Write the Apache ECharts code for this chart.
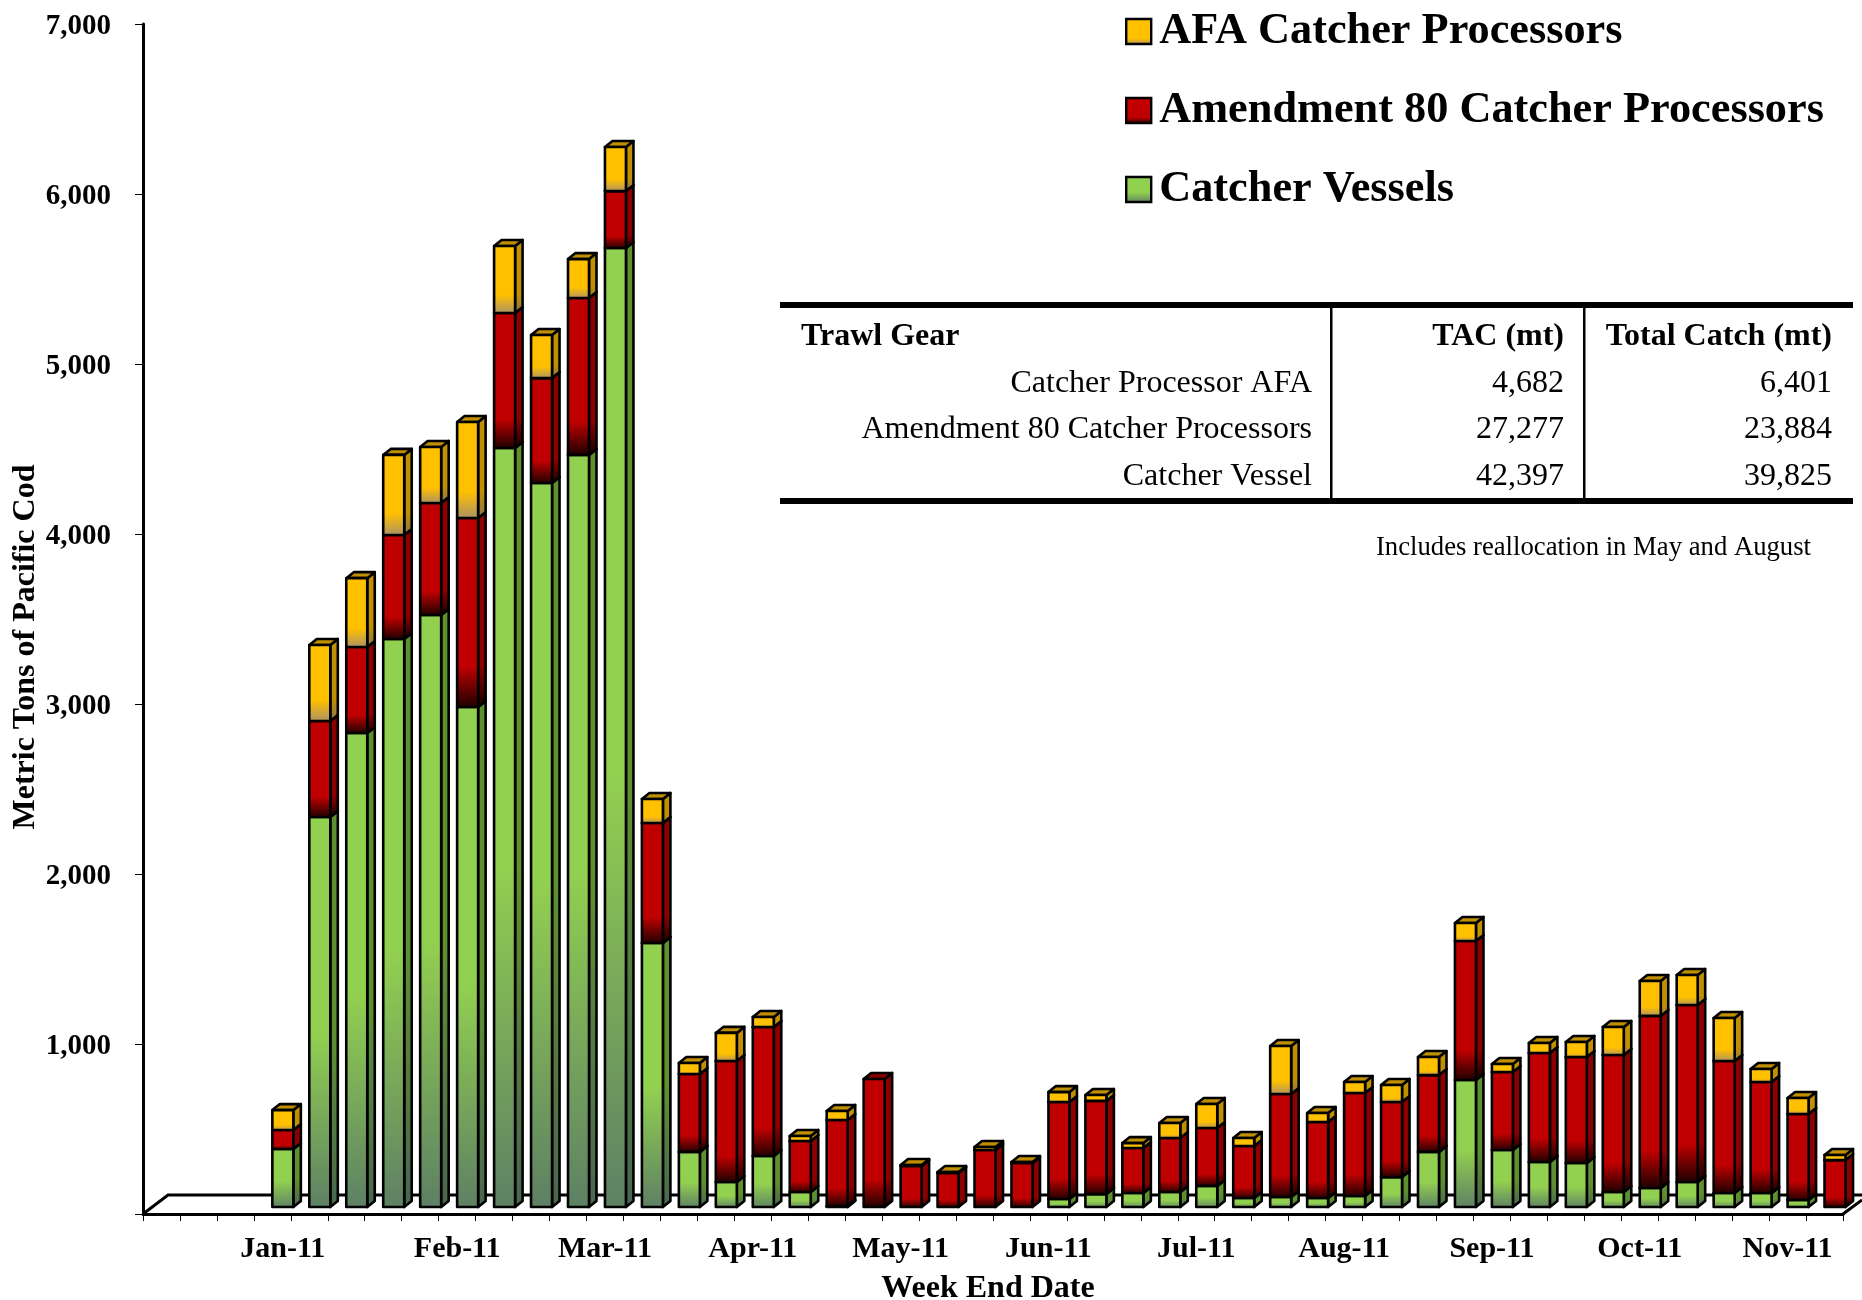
<!DOCTYPE html>
<html>
<head>
<meta charset="utf-8">
<style>html,body{margin:0;padding:0;background:#fff}#c{width:1862px;height:1300px}</style>
<script src="https://cdn.jsdelivr.net/npm/echarts@6/dist/echarts.min.js"></script>
</head>
<body>
<div id="c"></div>
<script>
const monthLabels = ['', '', '', 'Jan-11', '', '', '', '', 'Feb-11', '', '', '', 'Mar-11', '', '', '', 'Apr-11', '', '', '', 'May-11', '', '', '', 'Jun-11', '', '', '', 'Jul-11', '', '', '', 'Aug-11', '', '', '', 'Sep-11', '', '', '', 'Oct-11', '', '', '', 'Nov-11', ''];
const firstBarSlot = 3;
const catcherVessels = [341,2294,2788,3341,3482,2941,4465,4259,4424,5641,1553,324,147,300,88,5,0,0,0,0,0,47,76,82,88,124,53,59,53,65,176,324,747,335,265,259,88,112,147,82,82,41,0];
const amendment80 = [112,565,506,612,659,1112,794,617,923,335,706,458,712,759,300,507,753,241,200,335,259,571,548,265,318,341,306,606,447,606,442,452,818,459,641,623,806,1012,1041,777,653,506,276];
const afaProcessors = [117,447,405,471,330,565,394,253,229,259,141,65,165,59,30,53,0,6,6,18,6,58,35,29,88,141,47,282,53,64,100,106,106,47,59,89,165,205,177,253,77,94,30];
const seriesNames = ['AFA Catcher Processors', 'Amendment 80 Catcher Processors', 'Catcher Vessels'];
const tableHeader = ['Trawl Gear', 'TAC (mt)', 'Total Catch (mt)'];
const tableGear = ['Catcher Processor AFA', 'Amendment 80 Catcher Processors', 'Catcher Vessel'];
const tableTac = ['4,682', '27,277', '42,397'];
const tableCatch = ['6,401', '23,884', '39,825'];
const tableNote = 'Includes reallocation in May and August';

const FONT = '"Liberation Serif","Times New Roman",serif';
const FACE_W = 21, DEPTH_X = 7.5, DEPTH_Y = 6, LIFT = 7, STROKE = 2.6;

function grad(stops) {
  return new echarts.graphic.LinearGradient(0, 0, 0, 1, stops.map(s => ({offset: s[0], color: s[1]})));
}
const palette = {
  afa: {front: ['#FFC000', '#FFC000', '#A89068'], side: ['#C09000', '#C09000', '#8A7450'], top: '#C09000', from: 0.72},
  a80: {front: ['#C00000', '#C00000', '#1A0000'], side: ['#8E0000', '#8E0000', '#140000'], top: '#900000', from: 0.78},
  cv:  {front: ['#92D050', '#92D050', '#5E8064'], side: ['#5F9030', '#5F9030', '#4A6650'], top: '#6E9C3C', from: 0.55}
};

function barRenderer(p) {
  return function (params, api) {
    const base = api.value(1), top = api.value(2);
    if (top - base <= 0) return null;
    const x = api.coord([api.value(0), 0])[0];
    const y0 = api.coord([0, base])[1] - LIFT;
    const y1 = api.coord([0, top])[1] - LIFT;
    const line = {stroke: '#000', lineWidth: STROKE, lineJoin: 'round'};
    const stops = c => [[0, c[0]], [p.from, c[1]], [1, c[2]]];
    return {
      type: 'group',
      children: [
        {type: 'polygon', shape: {points: [[x + FACE_W, y1], [x + FACE_W + DEPTH_X, y1 - DEPTH_Y], [x + FACE_W + DEPTH_X, y0 - DEPTH_Y], [x + FACE_W, y0]]},
          style: Object.assign({fill: grad(stops(p.side))}, line)},
        {type: 'polygon', shape: {points: [[x, y1], [x + DEPTH_X, y1 - DEPTH_Y], [x + FACE_W + DEPTH_X, y1 - DEPTH_Y], [x + FACE_W, y1]]},
          style: Object.assign({fill: p.top}, line)},
        {type: 'rect', shape: {x: x, y: y1, width: FACE_W, height: y0 - y1},
          style: Object.assign({fill: grad(stops(p.front))}, line)}
      ]
    };
  };
}

function stackData(values, below) {
  return values.map((v, i) => {
    const b = below.reduce((s, arr) => s + arr[i], 0);
    return [i + firstBarSlot, b, b + v];
  });
}

function floorRenderer(params) {
  const c = params.coordSys;
  const bottom = c.y + c.height, left = c.x, right = c.x + c.width;
  const st = {stroke: '#000', lineWidth: 3, fill: null};
  return {type: 'group', children: [
    {type: 'polyline', shape: {points: [[left, bottom], [left + 25, bottom - 19], [1862, bottom - 19]]}, style: st},
    {type: 'line', shape: {x1: right, y1: bottom, x2: right + 19, y2: bottom - 14}, style: st}
  ]};
}

const textCommon = {fontFamily: FONT, fill: '#000', fontSize: 32};
const rowY = [337, 384, 430, 476.5];
const colRight = [1312, 1564, 1832];
const tableEls = [
  {type: 'rect', shape: {x: 780, y: 302, width: 1073, height: 6}, style: {fill: '#000'}},
  {type: 'rect', shape: {x: 780, y: 498, width: 1073, height: 6}, style: {fill: '#000'}},
  {type: 'rect', shape: {x: 1330, y: 305, width: 2.5, height: 196}, style: {fill: '#000'}},
  {type: 'rect', shape: {x: 1583, y: 305, width: 2.5, height: 196}, style: {fill: '#000'}},
  {type: 'text', x: 801, y: rowY[0], style: Object.assign({}, textCommon, {text: tableHeader[0], fontWeight: 'bold', textAlign: 'left', textVerticalAlign: 'middle'})},
  {type: 'text', x: colRight[1], y: rowY[0], style: Object.assign({}, textCommon, {text: tableHeader[1], fontWeight: 'bold', textAlign: 'right', textVerticalAlign: 'middle'})},
  {type: 'text', x: colRight[2], y: rowY[0], style: Object.assign({}, textCommon, {text: tableHeader[2], fontWeight: 'bold', textAlign: 'right', textVerticalAlign: 'middle'})},
  {type: 'text', x: 1811, y: 548, style: Object.assign({}, textCommon, {text: tableNote, fontSize: 26.7, textAlign: 'right', textVerticalAlign: 'middle'})}
];
[tableGear, tableTac, tableCatch].forEach((col, ci) => col.forEach((t, ri) => {
  tableEls.push({type: 'text', x: colRight[ci], y: rowY[ri + 1], style: Object.assign({}, textCommon, {text: t, textAlign: 'right', textVerticalAlign: 'middle'})});
}));

const chart = echarts.init(document.getElementById('c'), null, {renderer: 'canvas', width: 1862, height: 1300});
const legendEntry = (name, color) => ({name: name, itemStyle: {color: color, borderColor: '#000', borderWidth: 2.4}});

chart.setOption({
  animation: false,
  backgroundColor: '#fff',
  grid: {left: 143, top: 24, width: 1700, height: 1190, containLabel: false, outerBoundsMode: 'none'},
  xAxis: {
    type: 'category',
    data: monthLabels,
    boundaryGap: true,
    name: 'Week End Date',
    nameLocation: 'middle',
    nameGap: 59,
    nameMoveOverlap: false,
    nameTextStyle: {fontFamily: FONT, fontWeight: 'bold', fontSize: 32, color: '#000', padding: [0, 10, 0, 0]},
    axisLine: {lineStyle: {color: '#000', width: 3}},
    axisTick: {show: true, length: 7, interval: 0, alignWithLabel: false, lineStyle: {color: '#000', width: 1}},
    axisLabel: {
      interval: 0, margin: 20, hideOverlap: false, color: '#000',
      fontFamily: FONT, fontWeight: 'bold', fontSize: 30,
      formatter: v => v === 'Jan-11' ? '{j|' + v + '}' : v,
      rich: {j: {fontFamily: FONT, fontWeight: 'bold', fontSize: 30, color: '#000', padding: [0, 0, 0, 21]}}
    }
  },
  yAxis: {
    type: 'value', min: 0, max: 7000, interval: 1000,
    name: 'Metric Tons of Pacific Cod',
    nameLocation: 'middle',
    nameRotate: 90,
    nameGap: 101,
    nameMoveOverlap: false,
    nameTextStyle: {fontFamily: FONT, fontWeight: 'bold', fontSize: 32, color: '#000', padding: [0, 56, 0, 0]},
    splitLine: {show: false},
    axisLine: {show: true, lineStyle: {color: '#000', width: 3}},
    axisTick: {show: true, length: 8, lineStyle: {color: '#000', width: 1}},
    axisLabel: {
      margin: 32, color: '#000', fontFamily: FONT, fontWeight: 'bold', fontSize: 29,
      formatter: v => v === 0 ? '' : '{n|' + v.toLocaleString('en-US') + '}',
      rich: {n: {fontFamily: FONT, fontWeight: 'bold', fontSize: 29, color: '#000', padding: [5, 0, 0, 0]}}
    }
  },
  legend: {
    orient: 'vertical', left: 1120, top: 4.5,
    itemWidth: 25, itemHeight: 25, itemGap: 35, selectedMode: false,
    icon: 'rect',
    textStyle: {fontFamily: FONT, fontWeight: 'bold', fontSize: 44.3, color: '#000', lineHeight: 25, padding: [0, 0, 0, 3]},
    data: [
      legendEntry(seriesNames[0], grad([[0, '#FFC000'], [0.75, '#FFC000'], [1, '#A89068']])),
      legendEntry(seriesNames[1], grad([[0, '#C00000'], [0.75, '#C00000'], [1, '#1A0000']])),
      legendEntry(seriesNames[2], grad([[0, '#92D050'], [0.6, '#92D050'], [1, '#5E8064']]))
    ]
  },
  graphic: {elements: tableEls},
  series: [
    {type: 'custom', name: 'floor', silent: true, clip: false, data: [[0, 0, 0]], renderItem: floorRenderer, z: 1},
    {type: 'custom', name: seriesNames[2], clip: false, z: 2, encode: {x: 0, y: [1, 2]},
      itemStyle: {color: palette.cv.front[0]},
      data: stackData(catcherVessels, []), renderItem: barRenderer(palette.cv)},
    {type: 'custom', name: seriesNames[1], clip: false, z: 3, encode: {x: 0, y: [1, 2]},
      itemStyle: {color: palette.a80.front[0]},
      data: stackData(amendment80, [catcherVessels]), renderItem: barRenderer(palette.a80)},
    {type: 'custom', name: seriesNames[0], clip: false, z: 4, encode: {x: 0, y: [1, 2]},
      itemStyle: {color: palette.afa.front[0]},
      data: stackData(afaProcessors, [catcherVessels, amendment80]), renderItem: barRenderer(palette.afa)}
  ]
});
</script>
</body>
</html>
